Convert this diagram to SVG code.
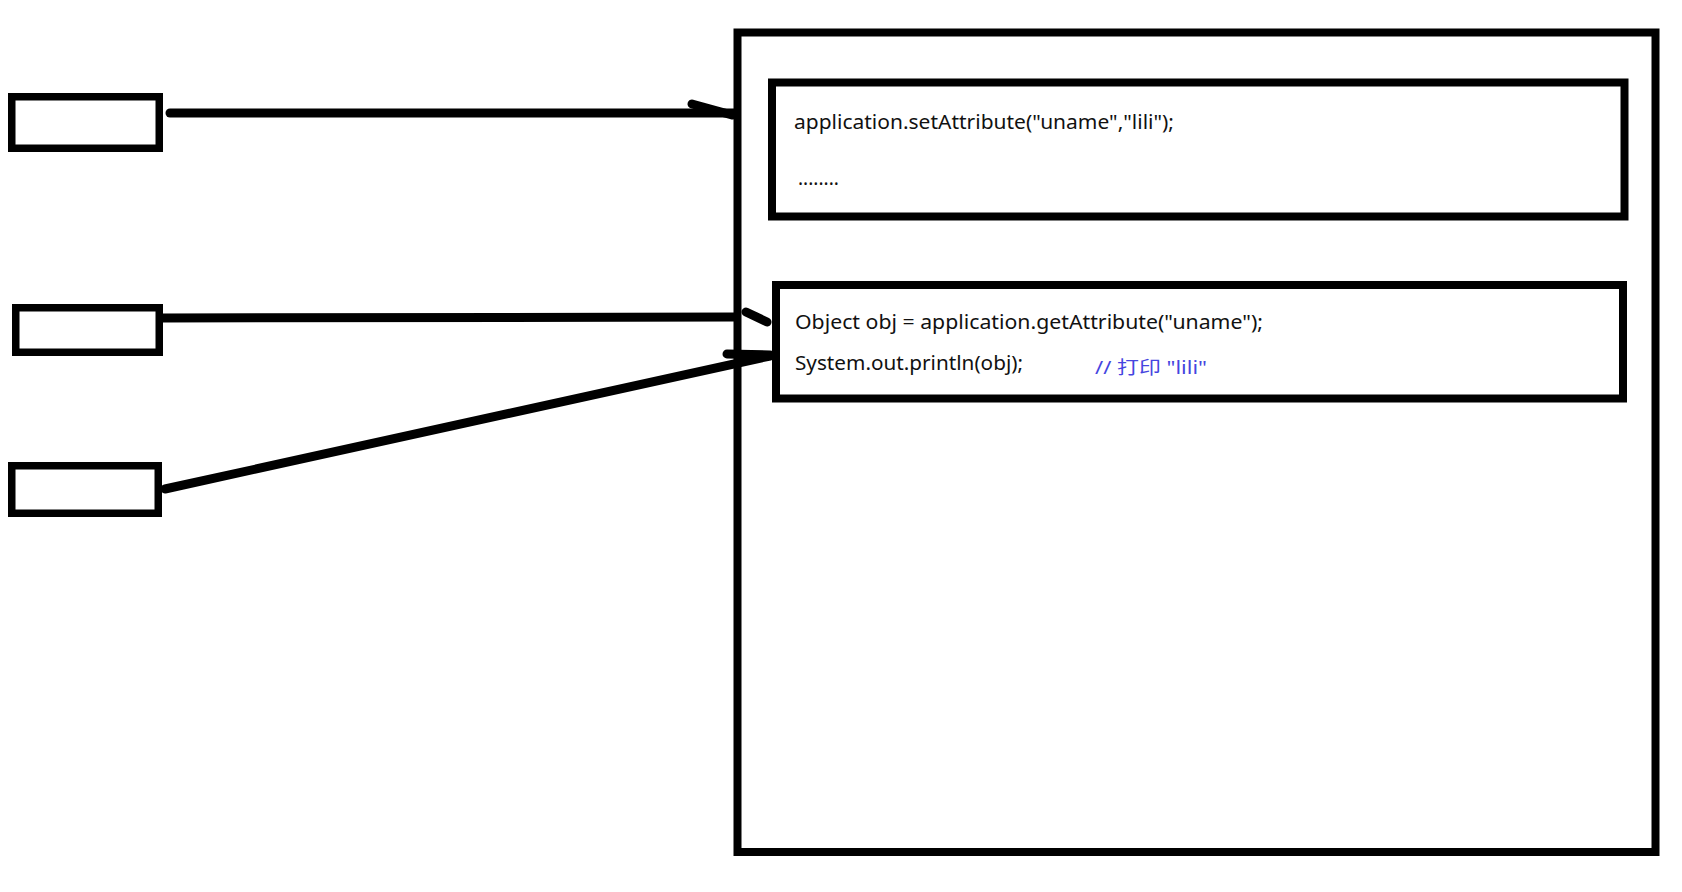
<svg xmlns="http://www.w3.org/2000/svg" width="1682" height="892" viewBox="0 0 1682 892">
<style>
.box{fill:none;stroke:#000;stroke-width:8}
.sbox{fill:none;stroke:#000;stroke-width:7.5}
.ln{fill:none;stroke:#000;stroke-width:9;stroke-linecap:round}
.code{font-family:"Noto Sans","Noto Sans CJK SC",sans-serif;font-size:20px;fill:#111}
.cmt{font-family:"Noto Sans","Noto Sans CJK SC",sans-serif;font-size:18px;fill:#4545e0}
</style>
<rect width="1682" height="892" fill="#fff"/>
<g id="client1"><rect class="sbox" x="11.75" y="96.75" width="147.5" height="51.5"/></g>
<g id="client2"><rect class="sbox" x="15.75" y="307.75" width="143.5" height="44.5"/></g>
<g id="client3"><rect class="sbox" x="11.75" y="465.75" width="146.5" height="47.5"/></g>
<g id="application"><rect class="box" x="737.5" y="32.5" width="918" height="819.5"/></g>
<g id="servlet1">
<rect class="box" x="772" y="82.5" width="852.5" height="134"/>
<text class="code" x="794" y="129" textLength="380" lengthAdjust="spacingAndGlyphs">application.setAttribute("uname","lili");</text>
<text class="code" x="798" y="185" textLength="41" lengthAdjust="spacingAndGlyphs">........</text>
</g>
<g id="servlet2">
<rect class="box" x="776" y="285" width="847" height="113.5"/>
<text class="code" x="795" y="329" textLength="468" lengthAdjust="spacingAndGlyphs">Object obj = application.getAttribute("uname");</text>
<text class="code" x="795" y="370" textLength="228" lengthAdjust="spacingAndGlyphs">System.out.println(obj);</text>
<text class="cmt" x="1095" y="374" textLength="112" lengthAdjust="spacingAndGlyphs">// 打印 "lili"</text>
</g>
<g id="connectors">
<path class="ln" d="M170 113 L735 113"/>
<path class="ln" d="M692 104 L732 115"/>
<path class="ln" d="M163 318 L735 317"/>
<path class="ln" d="M746 312 L767 322"/>
<path class="ln" d="M165 489 L770 356"/>
<path class="ln" d="M727 354 L770 355"/>
</g>
</svg>
